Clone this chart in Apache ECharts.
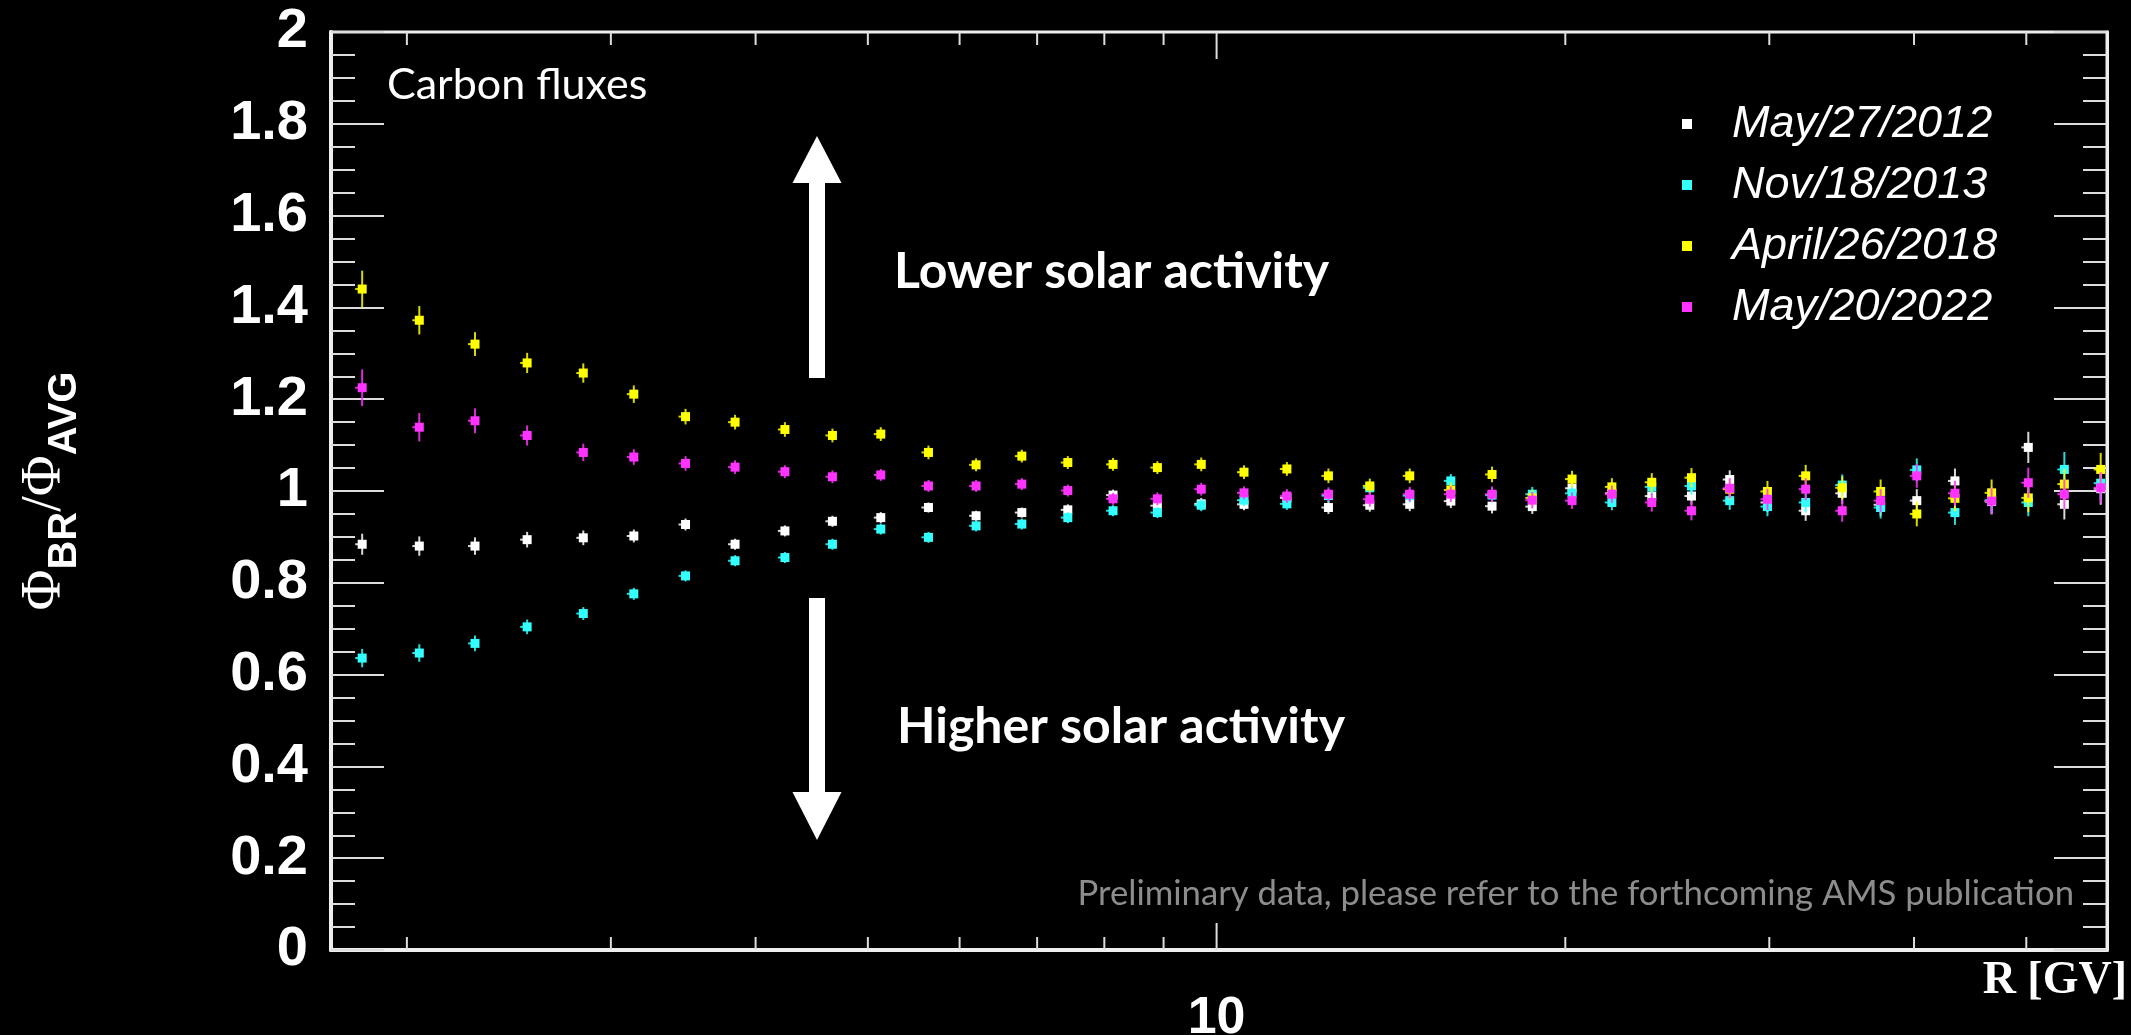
<!DOCTYPE html>
<html>
<head>
<meta charset="utf-8">
<script src="https://cdn.jsdelivr.net/npm/echarts@6/dist/echarts.min.js"></script>
<style>
html,body{margin:0;padding:0;background:#000;}
#chart{width:2131px;height:1035px;}
</style>
</head>
<body>
<div id="chart"></div>
<script>
// Rigidity bin positions (GV)
var rigidity = [1.83, 2.05, 2.29, 2.54, 2.84, 3.14, 3.48, 3.84, 4.24, 4.66, 5.13, 5.64, 6.20, 6.79, 7.44, 8.14, 8.89, 9.70, 10.56, 11.50, 12.49, 13.56, 14.68, 15.93, 17.29, 18.73, 20.27, 21.94, 23.75, 25.70, 27.73, 29.89, 32.25, 34.68, 37.43, 40.22, 43.39, 46.67, 50.20, 53.93, 57.97];

var seriesNames = ['May/27/2012', 'Nov/18/2013', 'April/26/2018', 'May/20/2022'];
var seriesColors = ['#ffffff', '#33ffff', '#ffff00', '#ff33ff'];

var may2012 = [0.884, 0.880, 0.880, 0.894, 0.898, 0.902, 0.927, 0.884, 0.913, 0.934, 0.942, 0.964, 0.946, 0.953, 0.959, 0.991, 0.968, 0.972, 0.971, 0.985, 0.964, 0.969, 0.971, 0.978, 0.967, 0.966, 1.006, 0.995, 0.989, 0.989, 1.025, 0.975, 0.957, 0.995, 0.970, 0.979, 1.022, 0.977, 1.095, 0.971, 1.005];
var nov2013 = [0.636, 0.647, 0.668, 0.704, 0.733, 0.776, 0.815, 0.848, 0.855, 0.884, 0.917, 0.899, 0.924, 0.928, 0.942, 0.957, 0.953, 0.969, 0.980, 0.972, 0.990, 1.007, 0.990, 1.022, 0.991, 0.993, 0.995, 0.975, 1.009, 1.011, 0.979, 0.966, 0.975, 1.013, 0.964, 1.046, 0.953, 0.980, 0.975, 1.047, 1.017];
var apr2018 = [1.440, 1.372, 1.320, 1.279, 1.257, 1.211, 1.162, 1.150, 1.134, 1.121, 1.124, 1.084, 1.057, 1.076, 1.062, 1.058, 1.051, 1.058, 1.041, 1.048, 1.033, 1.011, 1.033, 1.002, 1.036, 0.985, 1.026, 1.009, 1.019, 1.029, 1.004, 0.999, 1.033, 1.007, 0.999, 0.950, 0.984, 0.996, 0.985, 1.015, 1.047];
var may2022 = [1.225, 1.139, 1.153, 1.121, 1.084, 1.074, 1.060, 1.052, 1.042, 1.031, 1.035, 1.011, 1.011, 1.015, 1.001, 0.983, 0.983, 1.004, 0.996, 0.989, 0.993, 0.982, 0.993, 0.993, 0.993, 0.980, 0.979, 0.993, 0.975, 0.957, 1.006, 0.982, 1.004, 0.957, 0.979, 1.033, 0.995, 0.978, 1.018, 0.993, 1.007];

var may2012Err = [0.023, 0.021, 0.019, 0.017, 0.016, 0.014, 0.013, 0.012, 0.012, 0.012, 0.012, 0.011, 0.011, 0.011, 0.012, 0.012, 0.012, 0.013, 0.013, 0.013, 0.014, 0.014, 0.015, 0.015, 0.016, 0.016, 0.017, 0.017, 0.018, 0.019, 0.020, 0.021, 0.022, 0.023, 0.024, 0.025, 0.027, 0.028, 0.034, 0.033, 0.035];
var nov2013Err = [0.020, 0.019, 0.017, 0.016, 0.014, 0.013, 0.012, 0.012, 0.012, 0.012, 0.012, 0.012, 0.012, 0.012, 0.012, 0.012, 0.012, 0.013, 0.013, 0.013, 0.014, 0.014, 0.015, 0.015, 0.016, 0.016, 0.017, 0.017, 0.018, 0.019, 0.020, 0.021, 0.022, 0.023, 0.024, 0.025, 0.027, 0.028, 0.030, 0.038, 0.035];
var apr2018Err = [0.040, 0.031, 0.026, 0.022, 0.021, 0.019, 0.017, 0.016, 0.016, 0.015, 0.015, 0.015, 0.014, 0.014, 0.014, 0.014, 0.014, 0.015, 0.015, 0.015, 0.016, 0.016, 0.016, 0.017, 0.017, 0.018, 0.018, 0.019, 0.020, 0.021, 0.022, 0.023, 0.024, 0.025, 0.026, 0.027, 0.028, 0.029, 0.031, 0.033, 0.036];
var may2022Err = [0.040, 0.031, 0.027, 0.022, 0.019, 0.017, 0.016, 0.015, 0.014, 0.014, 0.013, 0.013, 0.013, 0.013, 0.013, 0.013, 0.014, 0.014, 0.014, 0.015, 0.015, 0.016, 0.016, 0.017, 0.017, 0.018, 0.018, 0.019, 0.020, 0.021, 0.022, 0.023, 0.024, 0.024, 0.025, 0.026, 0.027, 0.028, 0.033, 0.032, 0.034];

// axis ticks
var xMinorTicks = [2, 3, 4, 5, 6, 7, 8, 9, 20, 30, 40, 50];
var xMajorTicks = [10];
var xMin = 1.72, xMax = 58.7;
var yMin = 0, yMax = 2;

var allValues = [may2012, nov2013, apr2018, may2022];
var allErrors = [may2012Err, nov2013Err, apr2018Err, may2022Err];

function buildData(vals, errs) {
  return rigidity.map(function (r, i) { return [r, vals[i], errs[i]]; });
}

function pointRenderer(color) {
  return function (params, api) {
    var x = api.value(0), y = api.value(1), e = api.value(2);
    var p = api.coord([x, y]);
    var pt = api.coord([x, y + e]);
    var pb = api.coord([x, y - e]);
    return {
      type: 'group',
      children: [
        { type: 'line', shape: { x1: p[0], y1: pt[1], x2: p[0], y2: pb[1] }, style: { stroke: color, lineWidth: 2, opacity: 0.85 } },
        { type: 'line', shape: { x1: p[0] - 7, y1: p[1], x2: p[0] + 3, y2: p[1] }, style: { stroke: color, lineWidth: 2, opacity: 0.85 } },
        { type: 'rect', shape: { x: p[0] - 4.5, y: p[1] - 4.5, width: 9, height: 9 }, style: { fill: color } }
      ]
    };
  };
}

function tickRenderer(len) {
  return function (params, api) {
    var v = api.value(0);
    var b = api.coord([v, yMin]);
    var t = api.coord([v, yMax]);
    var st = { stroke: '#dddddd', lineWidth: 2 };
    return {
      type: 'group',
      children: [
        { type: 'line', shape: { x1: b[0], y1: b[1], x2: b[0], y2: b[1] - len }, style: st },
        { type: 'line', shape: { x1: t[0], y1: t[1], x2: t[0], y2: t[1] + len }, style: st }
      ]
    };
  };
}

var series = seriesNames.map(function (name, k) {
  return {
    name: name,
    type: 'custom',
    xAxisIndex: 0,
    yAxisIndex: 0,
    itemStyle: { color: seriesColors[k] },
    renderItem: pointRenderer(seriesColors[k]),
    data: buildData(allValues[k], allErrors[k]),
    z: 5 + k
  };
});
series.push({
  type: 'custom', name: 'minorTicks', silent: true,
  renderItem: tickRenderer(13),
  data: xMinorTicks.map(function (v) { return [v, yMin]; }), z: 3
});
series.push({
  type: 'custom', name: 'majorTicks', silent: true,
  renderItem: tickRenderer(27),
  data: xMajorTicks.map(function (v) { return [v, yMin]; }), z: 3
});

var chart = echarts.init(document.getElementById('chart'), null, { renderer: 'canvas' });

var option = {
  backgroundColor: '#000000',
  animation: false,
  grid: { left: 331, top: 32, width: 1776, height: 918, containLabel: false, outerBoundsMode: 'none', show: true, borderColor: '#eeeeee', borderWidth: 3, backgroundColor: 'transparent' },
  legend: {
    data: seriesNames.map(function (n) { return { name: n, icon: 'rect' }; }),
    orient: 'vertical',
    left: 1677,
    top: 94,
    itemWidth: 10,
    itemHeight: 10,
    itemGap: 11,
    selectedMode: false,
    textStyle: { color: '#ffffff', fontSize: 45, fontStyle: 'italic', fontFamily: 'Liberation Sans', lineHeight: 50, padding: [0, 0, 0, 35] }
  },
  xAxis: [{
    type: 'log',
    logBase: 10,
    min: xMin,
    max: xMax,
    position: 'bottom',
    axisLine: { show: true, lineStyle: { color: '#eeeeee', width: 4 } },
    axisTick: { show: false },
    splitLine: { show: false },
    axisLabel: { show: true, color: '#ffffff', fontSize: 52, fontWeight: 'bold', fontFamily: 'Liberation Sans', margin: 43, showMinLabel: false, showMaxLabel: false },
    name: 'R [GV]',
    nameLocation: 'end',
    nameGap: 20,
    nameTextStyle: { color: '#ffffff', fontSize: 46, fontWeight: 'bold', fontFamily: 'Liberation Serif', align: 'right', verticalAlign: 'top', padding: [8, 0, 0, 0] }
  }],
  yAxis: [{
    type: 'value',
    min: yMin,
    max: yMax,
    interval: 0.2,
    position: 'left',
    axisLine: { show: true, lineStyle: { color: '#eeeeee', width: 4 } },
    axisTick: { show: true, inside: true, length: 53, lineStyle: { color: '#dddddd', width: 2 } },
    minorTick: { show: true, splitNumber: 4, length: 24, lineStyle: { color: '#dddddd', width: 2 } },
    splitLine: { show: false },
    axisLabel: { color: '#ffffff', fontSize: 56, fontWeight: 'bold', fontFamily: 'Liberation Sans', margin: 23 },
    name: '{phi|Φ}{sub|BR}{sl|/}{phi|Φ}{sub|AVG}',
    nameLocation: 'middle',
    nameRotate: 90,
    nameGap: 246,
    nameTextStyle: {
      color: '#ffffff',
      rich: {
        phi: { fontFamily: 'Liberation Serif', fontSize: 56, color: '#ffffff', verticalAlign: 'bottom', padding: [0, 0, 12, 0] },
        sl: { fontFamily: 'Liberation Serif', fontSize: 56, color: '#ffffff', verticalAlign: 'bottom', padding: [0, 0, 12, 0] },
        sub: { fontFamily: 'Liberation Sans', fontWeight: 'bold', fontSize: 40, color: '#ffffff', verticalAlign: 'bottom' }
      }
    }
  }, {
    type: 'value',
    min: yMin,
    max: yMax,
    interval: 0.2,
    position: 'right',
    axisLine: { show: true, lineStyle: { color: '#eeeeee', width: 3 } },
    axisTick: { show: true, inside: true, length: 53, lineStyle: { color: '#dddddd', width: 2 } },
    minorTick: { show: true, splitNumber: 4, length: 24, lineStyle: { color: '#dddddd', width: 2 } },
    splitLine: { show: false },
    axisLabel: { show: false }
  }],
  graphic: [
    { type: 'text', left: 387, top: 64, style: { text: 'Carbon fluxes', fill: '#ffffff', fontSize: 43, fontFamily: 'Lato' } },
    { type: 'text', left: 894, top: 247, style: { text: 'Lower solar activity', fill: '#ffffff', fontSize: 50, fontWeight: 'bold', fontFamily: 'Lato' } },
    { type: 'text', left: 897, top: 702, style: { text: 'Higher solar activity', fill: '#ffffff', fontSize: 50, fontWeight: 'bold', fontFamily: 'Lato' } },
    { type: 'text', right: 57, top: 876, style: { text: 'Preliminary data, please refer to the forthcoming AMS publication', fill: '#8c8c8c', fontSize: 34.7, fontFamily: 'Lato' } },
    { type: 'polygon', shape: { points: [[817, 136], [841.5, 183], [792.5, 183]] }, style: { fill: '#ffffff' } },
    { type: 'rect', shape: { x: 809, y: 182, width: 16, height: 196 }, style: { fill: '#ffffff' } },
    { type: 'rect', shape: { x: 809, y: 598, width: 16, height: 195 }, style: { fill: '#ffffff' } },
    { type: 'polygon', shape: { points: [[792.5, 792], [841.5, 792], [817, 840]] }, style: { fill: '#ffffff' } }
  ],
  series: series
};

chart.setOption(option);
</script>
</body>
</html>
